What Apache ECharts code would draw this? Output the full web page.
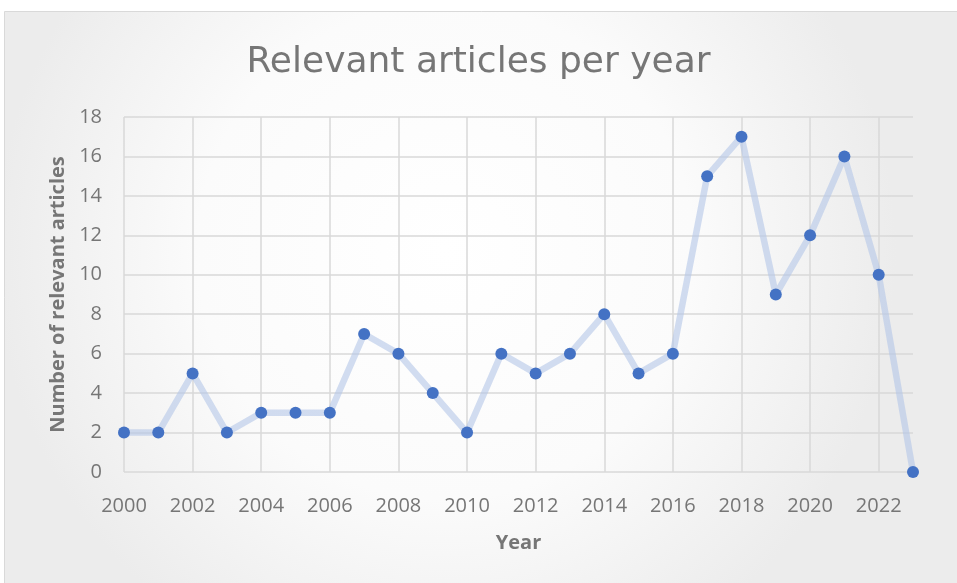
<!DOCTYPE html>
<html>
<head>
<meta charset="utf-8">
<script src="https://cdn.jsdelivr.net/npm/echarts@6/dist/echarts.min.js"></script>
<style>
  html, body { margin: 0; padding: 0; background: #fff; }
  #chart { width: 957px; height: 583px; }
</style>
</head>
<body>
<div id="chart"></div>
<script>
// Articles found per publication year
const years = ['2000','2001','2002','2003','2004','2005','2006','2007','2008','2009','2010','2011',
               '2012','2013','2014','2015','2016','2017','2018','2019','2020','2021','2022','2023'];
const articleCounts = [2, 2, 5, 2, 3, 3, 3, 7, 6, 4, 2, 6, 5, 6, 8, 5, 6, 15, 17, 9, 12, 16, 10, 0];
const yTicks = { min: 0, max: 18, step: 2 };

const textGray = '#767676';
const gridGray = '#d9d9d9';
const font = 'Open Sans';

const chart = echarts.init(document.getElementById('chart'), null, { renderer: 'canvas' });
chart.setOption({
  backgroundColor: '#ffffff',
  animation: false,
  graphic: [{
    type: 'rect',
    z: -10,
    silent: true,
    shape: { x: 4.5, y: 11.5, width: 980, height: 600 },
    style: {
      fill: {
        type: 'radial', x: 0.45, y: 0.4, r: 0.75,
        colorStops: [
          { offset: 0, color: '#ffffff' },
          { offset: 0.55, color: '#fbfbfb' },
          { offset: 1, color: '#ececec' }
        ]
      },
      stroke: '#d9d9d9',
      lineWidth: 1
    }
  }],
  title: {
    text: 'Relevant articles per year',
    left: 'center',
    top: 40,
    textStyle: { fontFamily: 'DejaVu Sans', fontSize: 36, fontWeight: 'normal', color: textGray }
  },
  grid: { left: 124, right: 44, top: 117, bottom: 111 },
  xAxis: {
    type: 'category',
    data: years,
    boundaryGap: false,
    name: 'Year',
    nameLocation: 'middle',
    nameGap: 61,
    nameTextStyle: { fontFamily: font, fontSize: 20, fontWeight: 'bold', color: textGray },
    axisLine: { show: false },
    axisTick: { show: false },
    axisLabel: { interval: 1, margin: 24, fontFamily: font, fontSize: 20, color: textGray },
    splitLine: { show: true, interval: 1, lineStyle: { color: gridGray, width: 1.5 } }
  },
  yAxis: {
    type: 'value',
    min: yTicks.min,
    max: yTicks.max,
    interval: yTicks.step,
    name: 'Number of relevant articles',
    nameLocation: 'middle',
    nameGap: 53,
    nameRotate: 90,
    nameTextStyle: { fontFamily: font, fontSize: 20, fontWeight: 'bold', color: textGray },
    axisLine: { show: false },
    axisTick: { show: false },
    axisLabel: { margin: 22, fontFamily: font, fontSize: 20, color: textGray },
    splitLine: { show: true, lineStyle: { color: gridGray, width: 1.5 } }
  },
  series: [{
    type: 'line',
    data: articleCounts,
    symbol: 'circle',
    symbolSize: 12,
    lineStyle: { color: 'rgba(180,199,231,0.6)', width: 6.5 },
    itemStyle: { color: '#4472c4' },
    z: 3
  }]
});
</script>
</body>
</html>
